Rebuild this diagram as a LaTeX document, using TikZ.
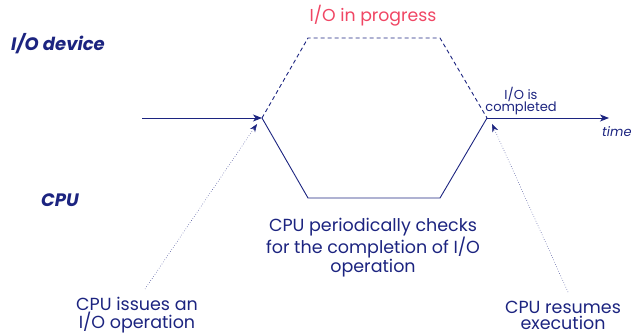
\documentclass[tikz,border=0pt]{standalone}
\usepackage{fontspec}
\setmainfont{Poppins}
\usetikzlibrary{arrows.meta}
\definecolor{navy}{RGB}{28,36,128}
\definecolor{busy}{RGB}{240,70,100}
\tikzset{
  lane/.style={navy, line width=0.9pt},
  waitline/.style={lane, dashed, dash pattern=on 4pt off 3pt},
  pointer/.style={navy, line width=0.5pt, dotted, -{Stealth[length=8pt,width=6pt]}},
  timearrow/.style={lane, -{Stealth[length=9pt,width=7pt,inset=2.5pt]}},
  caption/.style={navy, align=center, font=\fontsize{17.5}{16}\selectfont, inner sep=0pt},
  rowlabel/.style={navy, inner sep=0pt, anchor=west, font=\fontsize{18}{18}\selectfont\bfseries\itshape},
  small/.style={navy, font=\fontsize{13}{11}\selectfont, inner sep=0pt, align=center}
}
\begin{document}
\begin{tikzpicture}[x=1pt,y=-1pt]
\useasboundingbox (0,0) rectangle (631,336);
\clip (0,0) rectangle (631,336);

% timeline corners
\coordinate (start) at (142,118);
\coordinate (issue) at (262,118);
\coordinate (devA) at (308,38);
\coordinate (devB) at (440,38);
\coordinate (cpuA) at (308,198);
\coordinate (cpuB) at (440,198);
\coordinate (done) at (487,118);
\coordinate (tend) at (609,118);

% row labels
\node[rowlabel] (devlabel) at (11,44) {I/O device};
\node[rowlabel] (cpulabel) at (41,200) {CPU};

% device busy, CPU polling
\draw[waitline] (issue) -- (devA) -- (devB) -- (done);
\draw[lane] (issue) -- (cpuA) -- (cpuB) -- (done);
\draw[timearrow] (start) -- (issue);
\draw[timearrow] (done) -- (tend);

\node[busy, font=\fontsize{17.3}{18}\selectfont, inner sep=0pt] (prog) at (373,16) {I/O in progress};
\node[small] (complete) at (521,101) {I/O is\\completed};
\node[navy, font=\fontsize{13}{13}\selectfont\itshape, inner sep=0pt, anchor=base west] (time) at (602,137) {time};

% captions
\node[caption, font=\fontsize{17.5}{17}\selectfont] (poll) at (373,248) {CPU periodically checks\\for the completion of I/O\\operation};
\node[caption] (issuecap) at (137,315) {CPU issues an\\I/O operation};
\node[caption] (resume) at (563,315) {CPU resumes\\execution};

\coordinate (issuefoot) at (145,289);
\coordinate (resumefoot) at (568,292);
\draw[pointer] (issuefoot) -- (257,124);
\draw[pointer] (resumefoot) -- (492,124);
\end{tikzpicture}
\end{document}
